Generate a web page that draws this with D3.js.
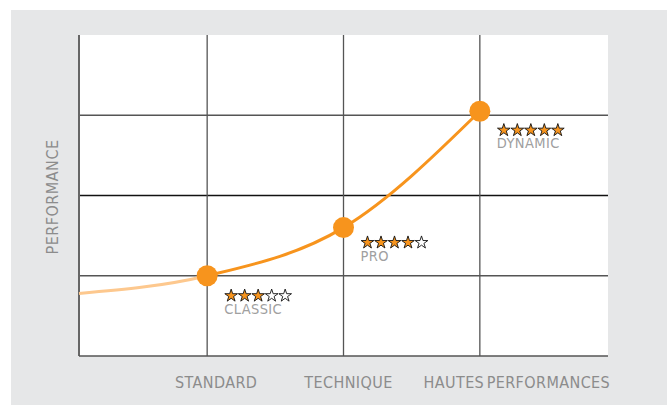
<!DOCTYPE html>
<html>
<head>
<meta charset="utf-8">
<script src="https://cdn.jsdelivr.net/npm/d3@7"></script>
<style>
  body { margin: 0; background: #fff; }
  text { font-family: "DejaVu Sans Condensed", "Roboto", sans-serif; }
</style>
</head>
<body>
<div id="chart"></div>
<script>
// categories along the bottom
const categories = ["STANDARD", "TECHNIQUE", "HAUTES PERFORMANCES"];
// curve points (x in category units, y in performance units)
const curveX = [-0.94, 0, 1, 2];
const curveY = [0.78, 1.0, 1.6, 3.05];
// products on the curve
const products = ["CLASSIC", "PRO", "DYNAMIC"];
const productStars = [3, 4, 5];
const yTicks = [1, 2, 3];

const width = 667;
const height = 405;

const svg = d3.select("#chart")
    .append("svg")
    .attr("width", width)
    .attr("height", height);

// grey panel
svg.append("rect")
    .attr("x", 11).attr("y", 10)
    .attr("width", width - 11).attr("height", height - 10)
    .attr("fill", "#e6e7e8");

const x = d3.scaleLinear().domain([-0.94, 2.94]).range([79, 608]);
const y = d3.scaleLinear().domain([0, 4]).range([356, 35]);

// plot area
svg.append("rect")
    .attr("x", x(-0.94)).attr("y", y(4))
    .attr("width", x(2.94) - x(-0.94)).attr("height", y(0) - y(4))
    .attr("fill", "#fff");

// horizontal grid lines
svg.selectAll("line.hgrid")
    .data(yTicks)
    .enter().append("line")
    .attr("class", "hgrid")
    .attr("x1", x(-0.94)).attr("x2", x(2.94))
    .attr("y1", d => y(d)).attr("y2", d => y(d))
    .attr("stroke", d => d === 2 ? "#111" : "#555")
    .attr("stroke-width", 1.3);

// vertical grid lines
svg.selectAll("line.vgrid")
    .data(categories)
    .enter().append("line")
    .attr("class", "vgrid")
    .attr("x1", (d, i) => x(i)).attr("x2", (d, i) => x(i))
    .attr("y1", y(4)).attr("y2", y(0))
    .attr("stroke", "#555")
    .attr("stroke-width", 1.3);

// axes (left and bottom)
svg.append("line")
    .attr("x1", x(-0.94)).attr("x2", x(-0.94))
    .attr("y1", y(4)).attr("y2", y(0))
    .attr("stroke", "#666").attr("stroke-width", 2);
svg.append("line")
    .attr("x1", x(-0.94)).attr("x2", x(2.94))
    .attr("y1", y(0)).attr("y2", y(0))
    .attr("stroke", "#555").attr("stroke-width", 1.5);

// curve
const pts = curveX.map((d, i) => [d, curveY[i]]);
const line = d3.line()
    .x(d => x(d[0]))
    .y(d => y(d[1]))
    .curve(d3.curveMonotoneX);

const defs = svg.append("defs");
defs.append("clipPath").attr("id", "clipLeft")
    .append("rect").attr("x", 0).attr("y", 0).attr("width", x(0)).attr("height", height);
defs.append("clipPath").attr("id", "clipRight")
    .append("rect").attr("x", x(0)).attr("y", 0).attr("width", width).attr("height", height);

svg.append("path")
    .attr("d", line(pts))
    .attr("fill", "none")
    .attr("stroke", "#fdc88e")
    .attr("stroke-width", 3)
    .attr("clip-path", "url(#clipLeft)");
svg.append("path")
    .attr("d", line(pts))
    .attr("fill", "none")
    .attr("stroke", "#f7941d")
    .attr("stroke-width", 3)
    .attr("clip-path", "url(#clipRight)");

// points
svg.selectAll("circle.pt")
    .data(products)
    .enter().append("circle")
    .attr("class", "pt")
    .attr("cx", (d, i) => x(curveX[i + 1]))
    .attr("cy", (d, i) => y(curveY[i + 1]))
    .attr("r", 10.5)
    .attr("fill", "#f7941d");

// stars and product labels
const star = d3.symbol().type(d3.symbolStar).size(50);
const starDy = [19, 14, 18];
products.forEach((name, i) => {
    const px = x(curveX[i + 1]) + 18;
    const py = y(curveY[i + 1]) + starDy[i];
    const g = svg.append("g");
    g.selectAll("path")
        .data(d3.range(5))
        .enter().append("path")
        .attr("d", star)
        .attr("transform", k => `translate(${px + 6 + k * 13.5},${py + 1})`)
        .attr("fill", k => k < productStars[i] ? "#f7941d" : "#fff")
        .attr("stroke", "#111")
        .attr("stroke-width", 0.9);
    g.append("text")
        .attr("x", px - 1)
        .attr("y", py + 19)
        .attr("fill", "#a0a0a0")
        .style("font-size", "14.5px")
        .style("letter-spacing", "0.4px")
        .text(name);
});

// category labels
const labelDx = [9, 5, 37];
svg.selectAll("text.cat")
    .data(categories)
    .enter().append("text")
    .attr("class", "cat")
    .attr("x", (d, i) => x(i) + labelDx[i])
    .attr("y", 388)
    .attr("text-anchor", "middle")
    .attr("fill", "#8c8c8c")
    .style("font-size", "16px")
    .style("letter-spacing", "0.4px")
    .style("word-spacing", "-2.5px")
    .text(d => d);

// y axis title
svg.append("text")
    .attr("transform", "translate(58,197) rotate(-90)")
    .attr("text-anchor", "middle")
    .attr("fill", "#8c8c8c")
    .style("font-size", "16px")
    .style("letter-spacing", "0.5px")
    .text("PERFORMANCE");
</script>
</body>
</html>
